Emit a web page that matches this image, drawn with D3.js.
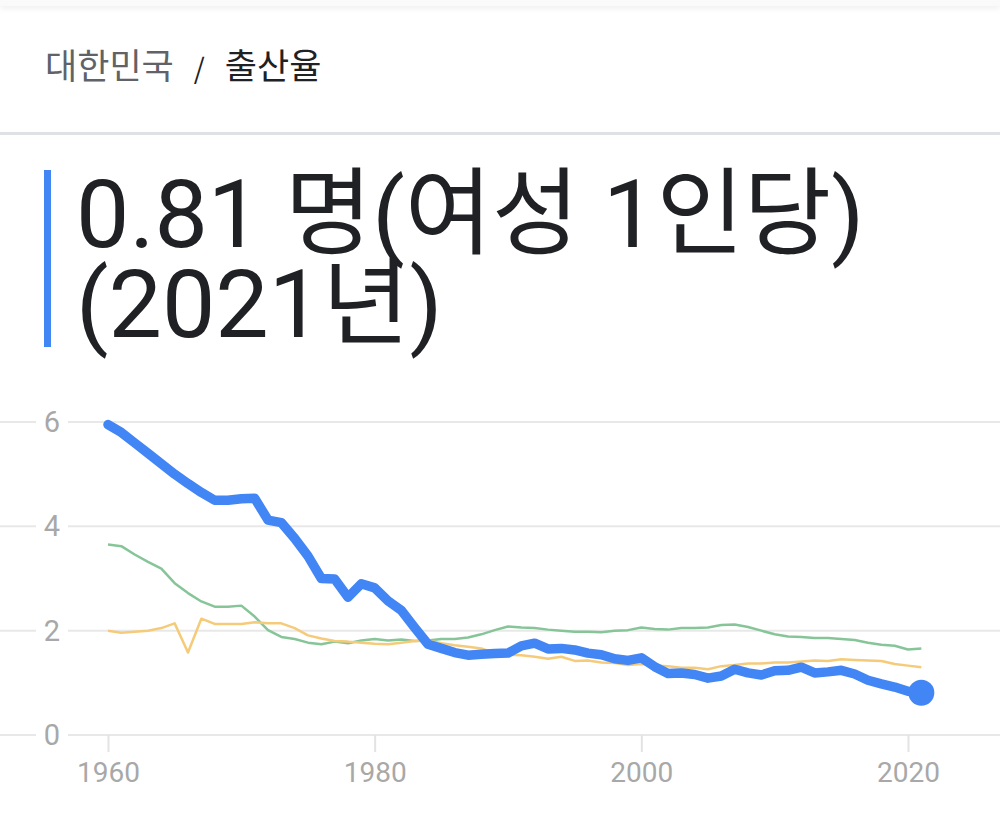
<!DOCTYPE html>
<html>
<head>
<meta charset="utf-8">
<script src="https://cdn.jsdelivr.net/npm/d3@7"></script>
<style>
  html, body { margin: 0; padding: 0; background: #fff; }
  #top { height: 6px; box-shadow: 0 2px 6px rgba(0,0,0,0.08); background: #fafafa; position: absolute; top: 0; left: 0; width: 1000px; }
  #chart { position: absolute; top: 0; left: 0; }
</style>
</head>
<body>
<div id="top"></div>
<div id="chart"></div>
<script>
const years = d3.range(1960, 2022)

// 대한민국
const korea = [5.95, 5.8, 5.6, 5.4, 5.2, 5.0, 4.82, 4.65, 4.5, 4.5, 4.53, 4.54, 4.12, 4.07, 3.77, 3.43, 3.0, 2.99, 2.64, 2.9,
    2.82, 2.57, 2.39, 2.06, 1.74, 1.66, 1.58, 1.53, 1.55, 1.56, 1.57, 1.71, 1.76, 1.65, 1.66, 1.63, 1.57, 1.54, 1.46, 1.43,
    1.48, 1.31, 1.18, 1.19, 1.16, 1.09, 1.13, 1.26, 1.19, 1.15, 1.23, 1.24, 1.3, 1.19, 1.21, 1.24, 1.17, 1.05, 0.98, 0.92,
    0.84, 0.81]

// green line
const usa = [3.65, 3.62, 3.46, 3.32, 3.19, 2.91, 2.72, 2.56, 2.46, 2.46, 2.48, 2.27, 2.01, 1.88, 1.84, 1.77, 1.74, 1.79, 1.76, 1.81,
    1.84, 1.81, 1.83, 1.8, 1.81, 1.84, 1.84, 1.87, 1.93, 2.01, 2.08, 2.06, 2.05, 2.02, 2.0, 1.98, 1.98, 1.97, 2.0, 2.01,
    2.06, 2.03, 2.02, 2.05, 2.05, 2.06, 2.11, 2.12, 2.07, 2.0, 1.93, 1.89, 1.88, 1.86, 1.86, 1.84, 1.82, 1.77, 1.73, 1.71,
    1.64, 1.66]

// yellow line
const japan = [2.0, 1.96, 1.98, 2.0, 2.05, 2.14, 1.58, 2.23, 2.13, 2.13, 2.13, 2.16, 2.14, 2.14, 2.05, 1.91, 1.85, 1.8, 1.79, 1.77,
    1.75, 1.74, 1.77, 1.8, 1.81, 1.76, 1.72, 1.69, 1.66, 1.57, 1.54, 1.53, 1.5, 1.46, 1.5, 1.42, 1.43, 1.39, 1.38, 1.34,
    1.36, 1.33, 1.32, 1.29, 1.29, 1.26, 1.32, 1.34, 1.37, 1.37, 1.39, 1.39, 1.41, 1.43, 1.42, 1.45, 1.44, 1.43, 1.42, 1.36,
    1.33, 1.3]

const yTicks = [0, 2, 4, 6]
const xTicks = [1960, 1980, 2000, 2020]

const width = 1000
const height = 816

const svg = d3.select('#chart')
    .append('svg')
    .attr('width', width)
    .attr('height', height)
    .style('font-family', 'Roboto, "Noto Sans CJK KR", sans-serif')

// header
const head = svg.append('text')
    .attr('x', 45)
    .attr('y', 79)
    .attr('font-size', '35px')
    .style('font-family', '"Noto Sans CJK KR", sans-serif')
head.append('tspan').attr('fill', '#5f6368').text('대한민국')
head.append('tspan').attr('fill', '#202124').attr('dx', 20).attr('font-size', '28px').text('/')
head.append('tspan').attr('fill', '#202124').attr('dx', 20).text('출산율')

svg.append('rect')
    .attr('x', 0).attr('y', 132)
    .attr('width', width).attr('height', 3)
    .attr('fill', '#dfe1e5')

// big number
svg.append('rect')
    .attr('x', 44).attr('y', 170)
    .attr('width', 7).attr('height', 177)
    .attr('fill', '#4285f4')

const title = svg.append('text')
    .attr('fill', '#202124')
    .attr('font-size', '95px')
title.append('tspan').attr('x', 76).attr('y', 247).text('0.81 명(여성 1인당)')
title.append('tspan').attr('x', 76).attr('y', 337).text('(2021년)')

// chart
const x = d3.scaleLinear()
    .domain([1960, 2020])
    .range([108, 908])

const y = d3.scaleLinear()
    .domain([0, 6])
    .range([735, 422])

const grid = svg.append('g')
grid.selectAll('line')
    .data(yTicks)
    .join('line')
    .attr('x1', 0)
    .attr('x2', width)
    .attr('y1', d => y(d))
    .attr('y2', d => y(d))
    .attr('stroke', '#e8e8e8')
    .attr('stroke-width', 2)

grid.selectAll('rect')
    .data(yTicks)
    .join('rect')
    .attr('x', 36)
    .attr('y', d => y(d) - 15)
    .attr('width', 32)
    .attr('height', 30)
    .attr('fill', '#fff')

grid.selectAll('text')
    .data(yTicks)
    .join('text')
    .attr('x', 52)
    .attr('y', d => y(d))
    .attr('dy', '0.35em')
    .attr('text-anchor', 'middle')
    .attr('font-size', '29px')
    .attr('fill', '#a8a8a8')
    .text(d => d)

const xAxis = svg.append('g')
    .attr('transform', `translate(0,${y(0)})`)
    .call(d3.axisBottom(x).tickValues(xTicks).tickFormat(d3.format('d')).tickSize(17).tickPadding(10))

xAxis.select('.domain').remove()
xAxis.selectAll('line').attr('stroke', '#e3e3e3').attr('stroke-width', 2)
xAxis.selectAll('text')
    .attr('font-size', '28px')
    .attr('fill', '#a8a8a8')
    .style('font-family', 'Roboto, sans-serif')

const line = d3.line()
    .x((d, i) => x(years[i]))
    .y(d => y(d))

svg.append('path')
    .datum(usa)
    .attr('d', line)
    .attr('fill', 'none')
    .attr('stroke', '#86c598')
    .attr('stroke-width', 2.5)
    .attr('stroke-linejoin', 'round')

svg.append('path')
    .datum(japan)
    .attr('d', line)
    .attr('fill', 'none')
    .attr('stroke', '#f5cb7a')
    .attr('stroke-width', 2.5)
    .attr('stroke-linejoin', 'round')

svg.append('path')
    .datum(korea)
    .attr('d', line)
    .attr('fill', 'none')
    .attr('stroke', '#4285f4')
    .attr('stroke-width', 9.5)
    .attr('stroke-linejoin', 'round')
    .attr('stroke-linecap', 'round')

svg.append('circle')
    .attr('cx', x(years[years.length - 1]))
    .attr('cy', y(korea[korea.length - 1]))
    .attr('r', 13)
    .attr('fill', '#4285f4')
</script>
</body>
</html>
